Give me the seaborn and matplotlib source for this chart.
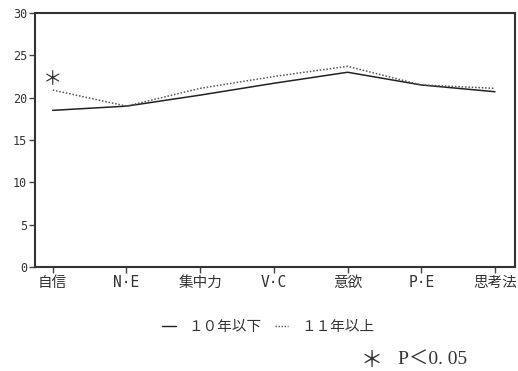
import matplotlib
matplotlib.use("Agg")
import matplotlib.pyplot as plt
import seaborn as sns
import pandas as pd
from matplotlib.lines import Line2D

categories = ["自信", "N·E", "集中力", "V·C", "意欲", "P·E", "思考法"]
under10 = [18.5, 19.0, 20.3, 21.7, 23.0, 21.5, 20.7]
over11 = [20.9, 19.0, 21.1, 22.5, 23.7, 21.5, 21.1]
group_labels = ["１０年以下", "１１年以上"]
yticks = [0, 5, 10, 15, 20, 25, 30]

sns.set_theme(style="white")
plt.rcParams['font.family'] = ['Noto Sans CJK JP', 'DejaVu Sans']

df = pd.DataFrame({
    "item": categories * 2,
    "score": under10 + over11,
    "group": [group_labels[0]] * len(categories) + [group_labels[1]] * len(categories),
})

fig = plt.figure(figsize=(5.18, 3.71), dpi=100)
ax = fig.add_axes([0.0676, 0.2803, 0.9264, 0.6847])

sns.lineplot(data=df, x="item", y="score", hue="group", style="group",
             palette={group_labels[0]: "#222222", group_labels[1]: "#555555"},
             dashes={group_labels[0]: "", group_labels[1]: (1, 1.2)},
             linewidth=1.1, legend=False, ax=ax, sort=False)

ax.set_xlim(-0.24, 6.27)
ax.set_ylim(0, 30)
ax.set_yticks(yticks)
ax.set_yticklabels([str(v) for v in yticks], fontsize=8.5, family="DejaVu Sans Mono", color="#333333")
ax.set_xticks(range(len(categories)))
ax.set_xticklabels(categories, fontsize=10.5, color="#333333",
                   family=["DejaVu Sans Mono", "Noto Sans CJK JP"])
ax.set_xlabel("")
ax.set_ylabel("")
ax.tick_params(axis="both", direction="out", length=4, width=1, color="#444444", left=True, bottom=True, pad=1.5)
for s in ax.spines.values():
    s.set_linewidth(1.5)
    s.set_color("#333333")

ax.text(0, 22.2, "＊", ha="center", va="center", fontsize=14, color="#333333")

handles = [Line2D([], [], color="#222222", lw=1.0),
           Line2D([], [], color="#555555", lw=1.0, ls=(0, (1, 1.2)))]
fig.legend(handles, group_labels, loc="center", bbox_to_anchor=(0.518, 0.118),
           ncol=2, frameon=False, fontsize=10.5, handlelength=0.9, handletextpad=0.9,
           columnspacing=0.9, labelcolor="#333333")

fig.text(0.718, 0.029, "＊", ha="center", va="center", fontsize=16, color="#333333")
fig.text(0.768, 0.029, "P＜0. 05", ha="left", va="center", fontsize=14,
         family=["Liberation Serif", "Noto Sans CJK JP"], color="#333333")

fig.savefig("out.png", dpi=100)
